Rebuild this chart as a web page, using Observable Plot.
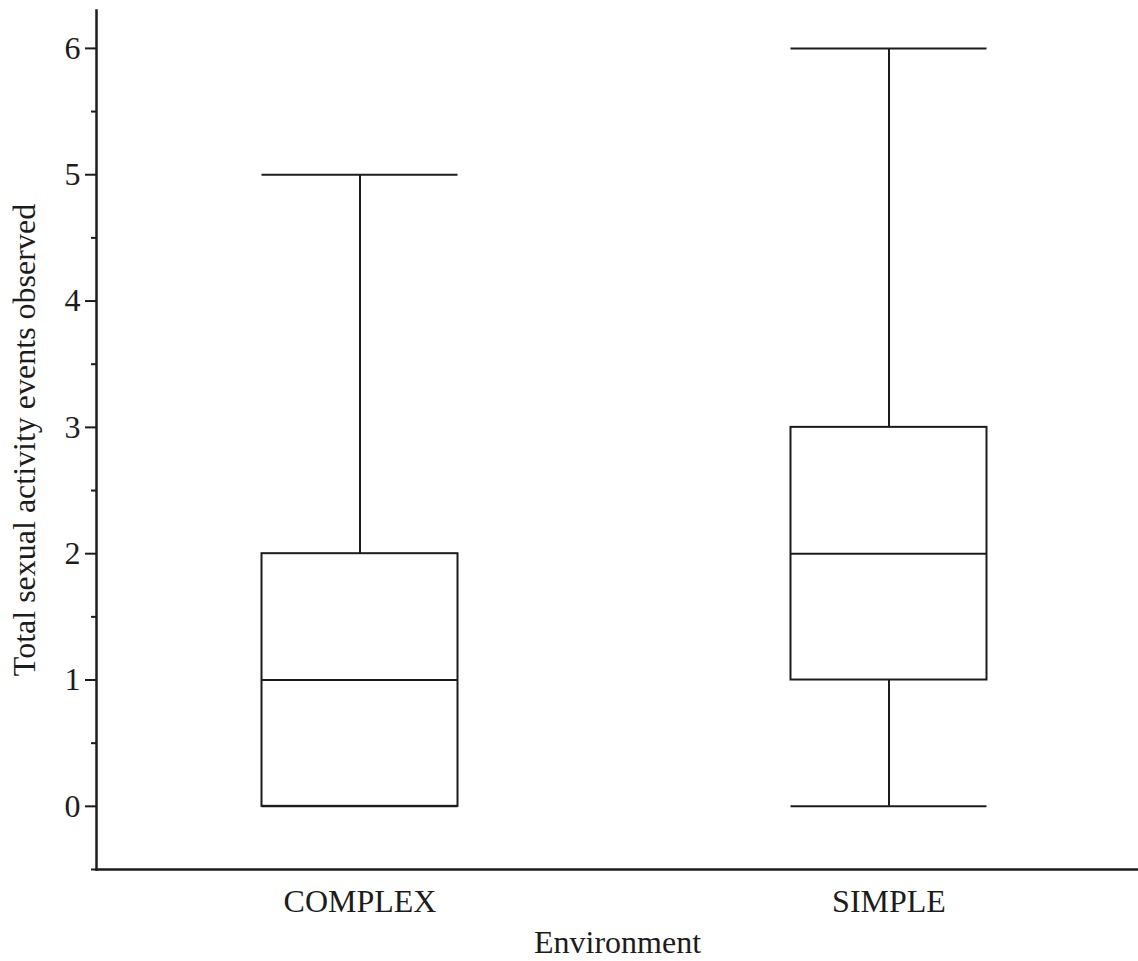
<!DOCTYPE html>
<html>
<head>
<meta charset="utf-8">
<script src="https://cdn.jsdelivr.net/npm/d3@7"></script>
<script src="https://cdn.jsdelivr.net/npm/@observablehq/plot@0.6"></script>
<style>
  html, body { margin: 0; padding: 0; background: #fff; }
  #chart svg { display: block; }
</style>
</head>
<body>
<div id="chart"></div>
<script>
// Five-number summaries per environment
const environments = ["COMPLEX", "SIMPLE"];
const minimum = [0, 0];
const lowerQuartile = [0, 1];
const median = [1, 2];
const upperQuartile = [2, 3];
const maximum = [5, 6];

const majorTicks = [0, 1, 2, 3, 4, 5, 6];
const minorTicks = [-0.5, 0.5, 1.5, 2.5, 3.5, 4.5, 5.5];

const yLabel = "Total sexual activity events observed";
const xLabel = "Environment";

const stats = environments.map((env, i) => ({
  env,
  min: minimum[i],
  q1: lowerQuartile[i],
  med: median[i],
  q3: upperQuartile[i],
  max: maximum[i]
}));

const ink = "#1c1c1c";
const lw = 2;
const inset = 166.5; // box half-gap within each band
const font = "'Liberation Serif', 'Times New Roman', serif";

const chart = Plot.plot({
  width: 1138,
  height: 961,
  marginTop: 10,
  marginLeft: 96,
  marginRight: 0,
  marginBottom: 92,
  style: { fontFamily: font, fontSize: "32px", color: ink, background: "#fff" },
  x: { type: "band", domain: environments, range: [95, 1153], padding: 0 },
  y: { domain: [-0.5, 6.3] },
  marks: [
    // axis lines
    Plot.frame({ anchor: "left", stroke: ink, strokeWidth: 2.5 }),
    Plot.frame({ anchor: "bottom", stroke: ink, strokeWidth: 2.5 }),
    // y axis: labelled major ticks and short minor ticks
    Plot.axisY({
      ticks: majorTicks,
      tickFormat: (d) => String(d),
      tickSize: 11,
      tickPadding: 5,
      strokeWidth: 2,
      fontSize: 32,
      label: yLabel,
      labelAnchor: "center",
      labelArrow: "none",
      labelOffset: 84
    }),
    Plot.axisY({
      ticks: minorTicks,
      tickSize: 5,
      strokeWidth: 2,
      tickFormat: () => "",
      label: null
    }),
    // x axis: category labels only
    Plot.axisX({
      tickSize: 0,
      tickPadding: 20,
      fontSize: 32,
      label: xLabel,
      labelAnchor: "center",
      labelArrow: "none",
      labelOffset: 83
    }),
    // whiskers
    Plot.ruleX(stats, { x: "env", y1: "q3", y2: "max", stroke: ink, strokeWidth: lw }),
    Plot.ruleX(stats, { x: "env", y1: "min", y2: "q1", stroke: ink, strokeWidth: lw }),
    // whisker caps
    Plot.tickY(stats, { x: "env", y: "max", insetLeft: inset, insetRight: inset, stroke: ink, strokeWidth: lw }),
    Plot.tickY(stats, { x: "env", y: "min", insetLeft: inset, insetRight: inset, stroke: ink, strokeWidth: lw }),
    // boxes
    Plot.barY(stats, { x: "env", y1: "q1", y2: "q3", insetLeft: inset, insetRight: inset, fill: "#fff", stroke: ink, strokeWidth: lw }),
    // medians
    Plot.tickY(stats, { x: "env", y: "med", insetLeft: inset, insetRight: inset, stroke: ink, strokeWidth: lw })
  ]
});

document.getElementById("chart").appendChild(chart);
</script>
</body>
</html>
